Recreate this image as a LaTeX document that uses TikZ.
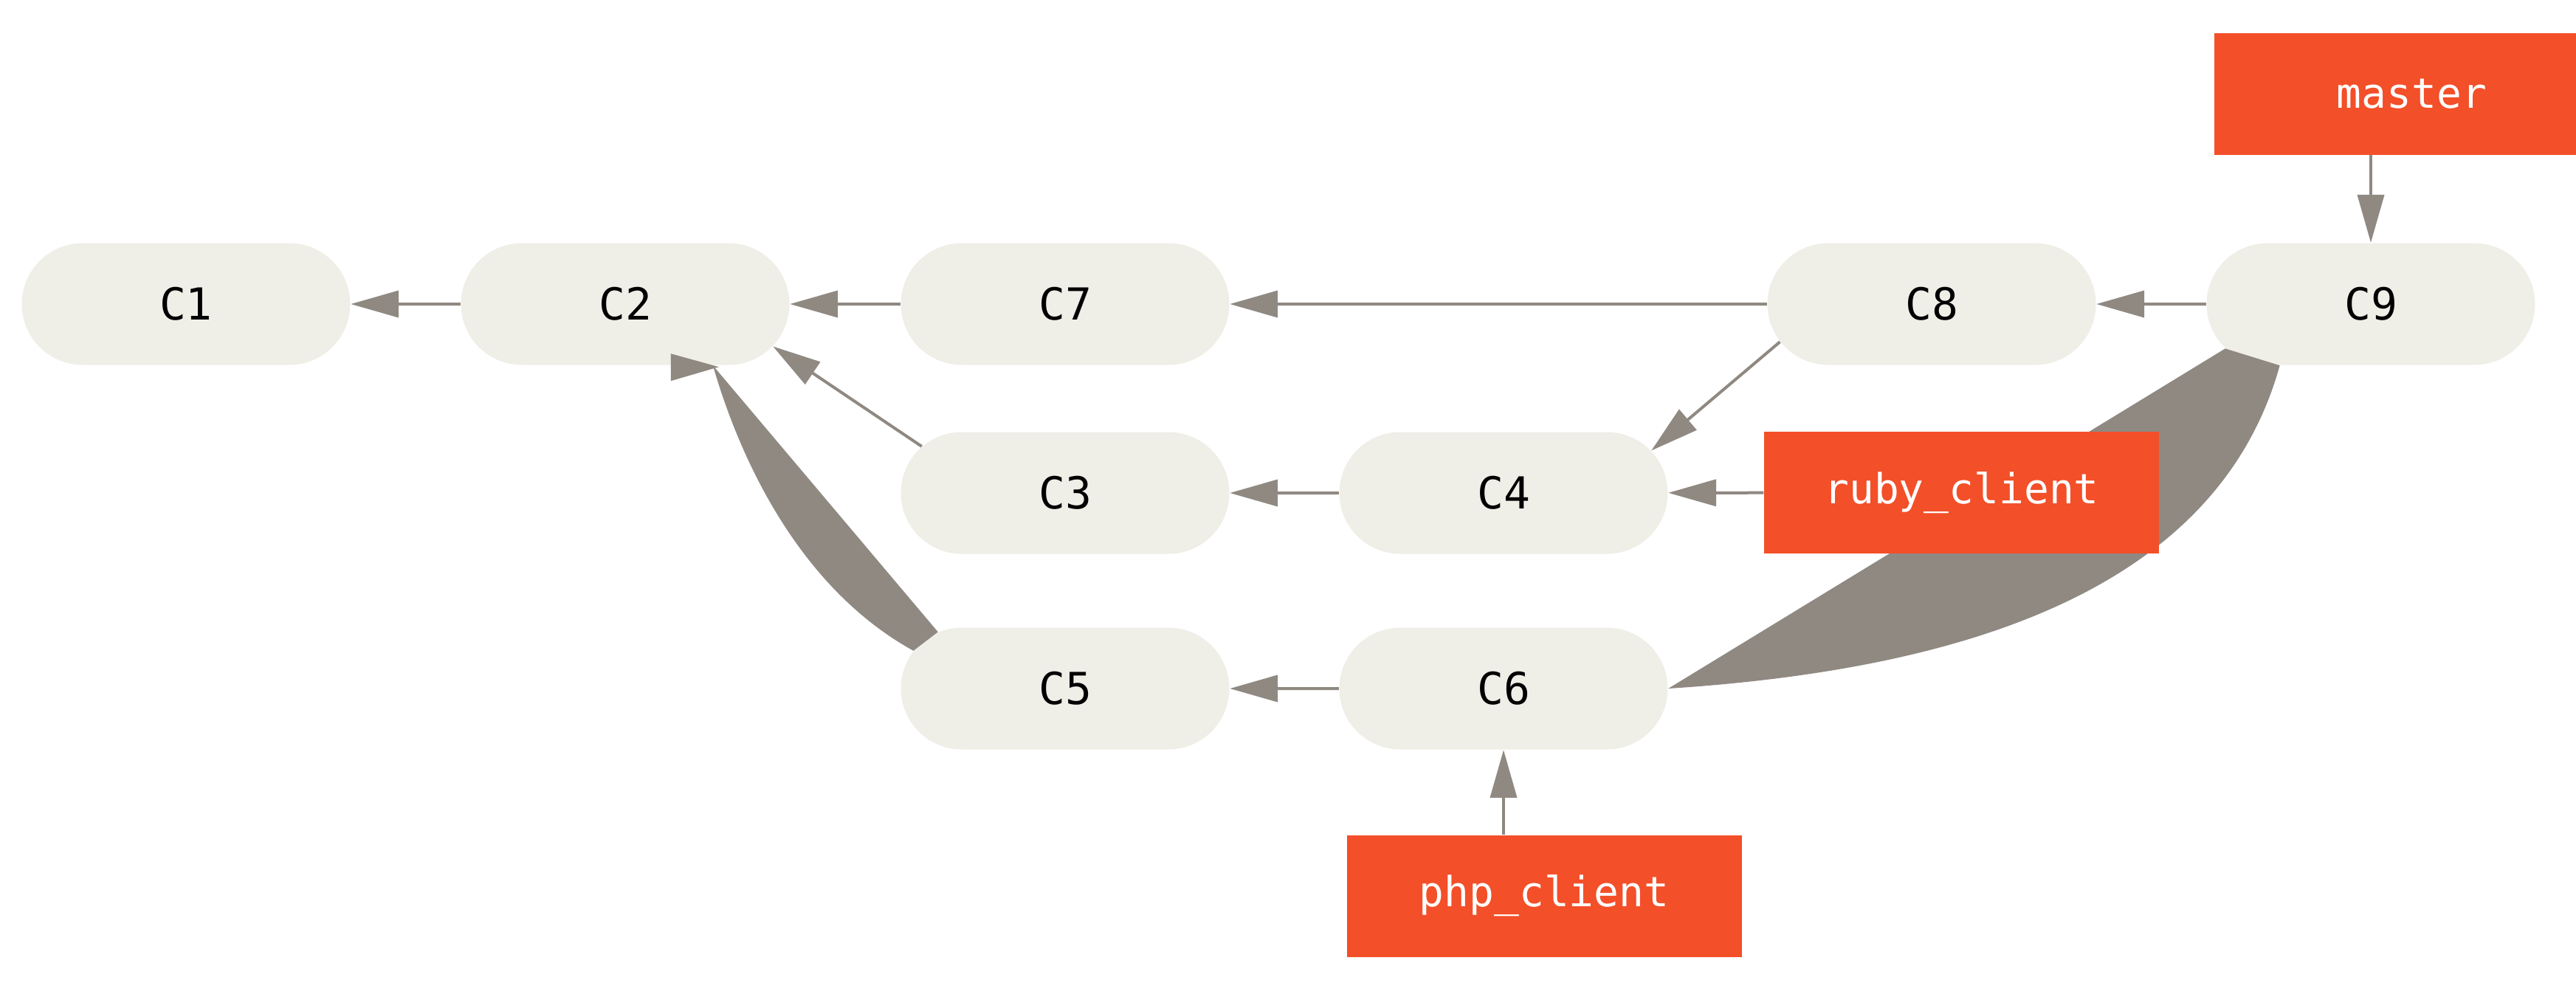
\documentclass[tikz,border=0pt]{standalone}
\usepackage{fontspec}
\setmonofont{DejaVu Sans Mono}
\usetikzlibrary{arrows.meta,shapes.misc}
\definecolor{commitfill}{HTML}{EFEEE7}
\definecolor{branchred}{HTML}{F34F29}
\definecolor{linkgray}{HTML}{8F8982}
\begin{document}
\begin{tikzpicture}[
        >={Triangle[length=0.65cm,width=0.36cm]},
        commit/.style={rounded rectangle, fill=commitfill, minimum width=4.45cm, minimum height=1.65cm, inner sep=0pt, font=\ttfamily\fontsize{17pt}{20pt}\selectfont},
        branch/.style={rectangle, fill=branchred, text=white, minimum width=5.35cm, minimum height=1.65cm, inner sep=0pt, font=\ttfamily\fontsize{16pt}{19pt}\selectfont},
        link/.style={draw=linkgray, line width=0.04cm}
    ]
        \useasboundingbox (0,0) rectangle (34.9,-13.5);

        \node [commit] (C1) at (2.52,-4.12) {C1};
        \node [commit] (C2) at (8.47,-4.12) {C2};
        \node [commit] (C7) at (14.43,-4.12) {C7};
        \node [commit] (C8) at (26.17,-4.12) {C8};
        \node [commit] (C9) at (32.12,-4.12) {C9};

        \node [commit] (C3) at (14.43,-6.68) {C3};
        \node [commit] (C4) at (20.37,-6.68) {C4};

        \node [commit] (C5) at (14.43,-9.33) {C5};
        \node [commit] (C6) at (20.37,-9.33) {C6};

            \fill [linkgray] (C5.166.7) .. controls +(-1.45,0.80) and +(0.42,-1.45) .. (C2.-35) -- (C5.156.8) -- cycle;
            \fill [linkgray] (C2.-35) ++(-0.57,0.16) -- ++(0,-0.37) -- ++(0.65,0.19) -- cycle;
            \fill [linkgray] (C9.-146.4) .. controls +(-0.82,-2.95) and +(4.20,0.27) .. (C6.east) -- (C9.-163.5) -- cycle;

        \node [branch] (master) at (32.675,-1.27) {master};
        \node [branch] (ruby) at (26.575,-6.675) {ruby\_client};
        \node [branch] (php) at (20.92,-12.14) {php\_client};

        \draw[link,->] (C2) -- (C1);
        \draw[link,->] (C7) -- (C2);
        \draw[link,->] (C8) -- (C7);
        \draw[link,->] (C9) -- (C8);
        \draw[link,->] (C3.162) -- (C2.-16);
        \draw[link,->] (C4) -- (C3);
        \draw[link,->] (C8.194) -- (C4.16);
        \draw[link,->] (C6) -- (C5);

        \draw[link,->] (master.south -| C9.north) -- (C9.north);
        \draw[link,->] (ruby) -- (C4);
        \draw[link,->] (php.north -| C6.south) -- (C6.south);
    \end{tikzpicture}
\end{document}
